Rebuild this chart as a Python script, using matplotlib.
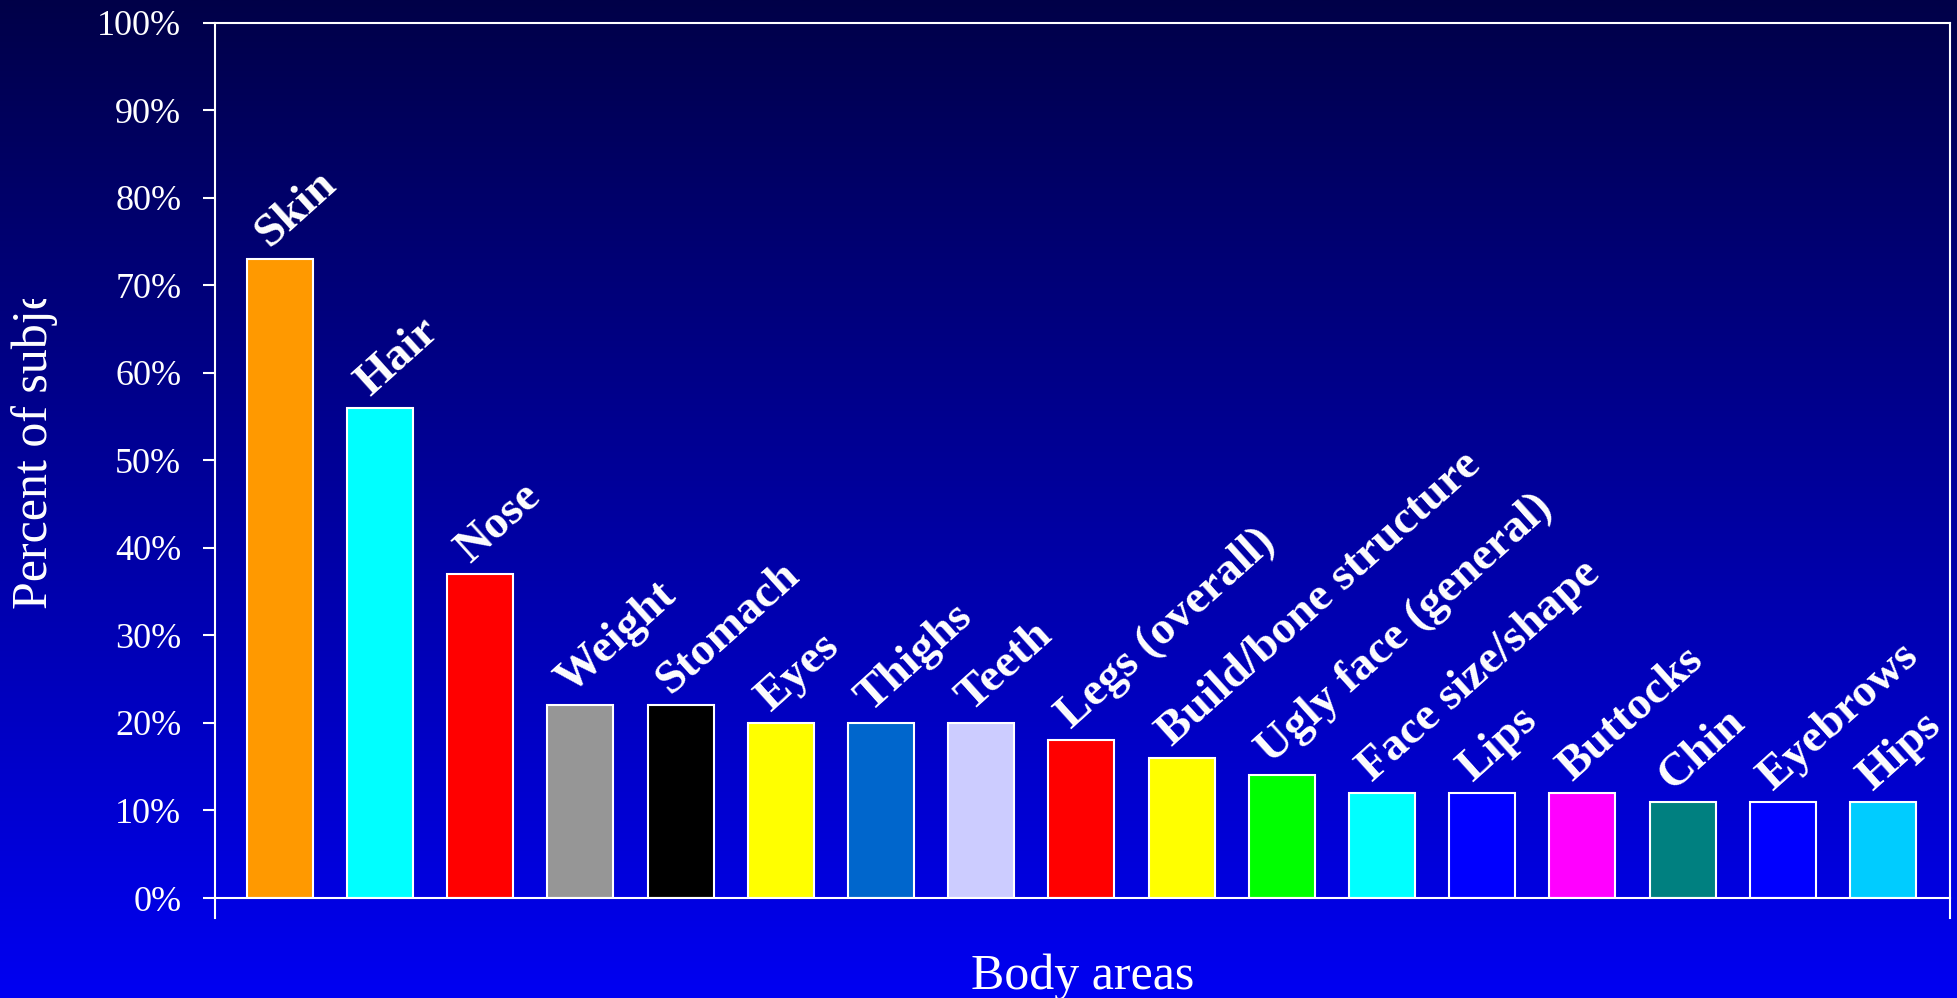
import matplotlib
matplotlib.use("Agg")
import matplotlib.pyplot as plt
import numpy as np
from matplotlib.transforms import Bbox, TransformedBbox

areas = ['Skin', 'Hair', 'Nose', 'Weight', 'Stomach', 'Eyes', 'Thighs', 'Teeth',
         'Legs (overall)', 'Build/bone structure', 'Ugly face (general)',
         'Face size/shape', 'Lips', 'Buttocks', 'Chin', 'Eyebrows', 'Hips']
percent = [73, 56, 37, 22, 22, 20, 20, 20, 18, 16, 14, 12, 12, 12, 11, 11, 11]
bar_colors = ['#FF9900', '#00FFFF', '#FF0000', '#969696', '#000000', '#FFFF00',
              '#0066CC', '#CCCCFF', '#FF0000', '#FFFF00', '#00FF00', '#00FFFF',
              '#0000FF', '#FF00FF', '#008080', '#0000FF', '#00CCFF']
yticks = np.arange(0, 101, 10)

serif = 'Liberation Serif'

fig = plt.figure(figsize=(19.57, 9.98), dpi=100)

# dark navy to bright blue backdrop
bg = fig.add_axes([0, 0, 1, 1], zorder=0)
top = np.array([0, 0, 0x48]) / 255
bottom = np.array([0, 0, 0xF2]) / 255
t = np.linspace(0, 1, 512)[:, None]
grad = (top[None, :] * (1 - t) + bottom[None, :] * t)[:, None, :]
bg.imshow(grad, aspect='auto', extent=[0, 1, 0, 1], interpolation='bilinear')
bg.set_axis_off()

ax = fig.add_axes([0.1097, 0.1002, 0.8868, 0.8772], zorder=1)
ax.patch.set_visible(False)

x = np.arange(len(areas))
ax.bar(x, percent, width=0.66, color=bar_colors, edgecolor='white', linewidth=1.5, zorder=2)

for xi, v, name in zip(x, percent, areas):
    ax.text(xi - 0.1, v + 1.2, name, rotation=42, rotation_mode='anchor',
            ha='left', va='baseline', color='white', fontsize=34,
            fontweight='bold', family=serif, zorder=3)

ax.set_xlim(-0.65, 16.67)
ax.set_ylim(0, 100)
ax.set_yticks(yticks)
ax.set_yticklabels([f'{v}%' for v in yticks], family=serif, fontsize=26, color='white')
ax.set_xticks([])
ax.tick_params(axis='y', direction='out', length=9, width=1.5, color='white', pad=15)

for side in ['left', 'right', 'top', 'bottom']:
    ax.spines[side].set_color('white')
    ax.spines[side].set_linewidth(1.5)
ax.spines['left'].set_bounds(-2.3, 100)
ax.spines['right'].set_bounds(-2.3, 100)

ylab = fig.text(0.0175, 0.39, 'Percent of subjects', rotation=90, ha='center',
                va='bottom', color='white', fontsize=36, family=serif)
ylab.set_clip_box(TransformedBbox(Bbox([[0, 0], [0.2, 0.70]]), fig.transFigure))
ylab.set_clip_on(True)

fig.text(0.553, 0.009, 'Body areas', ha='center', va='baseline',
         color='white', fontsize=36, family=serif)

fig.savefig('out.png', dpi=100)
